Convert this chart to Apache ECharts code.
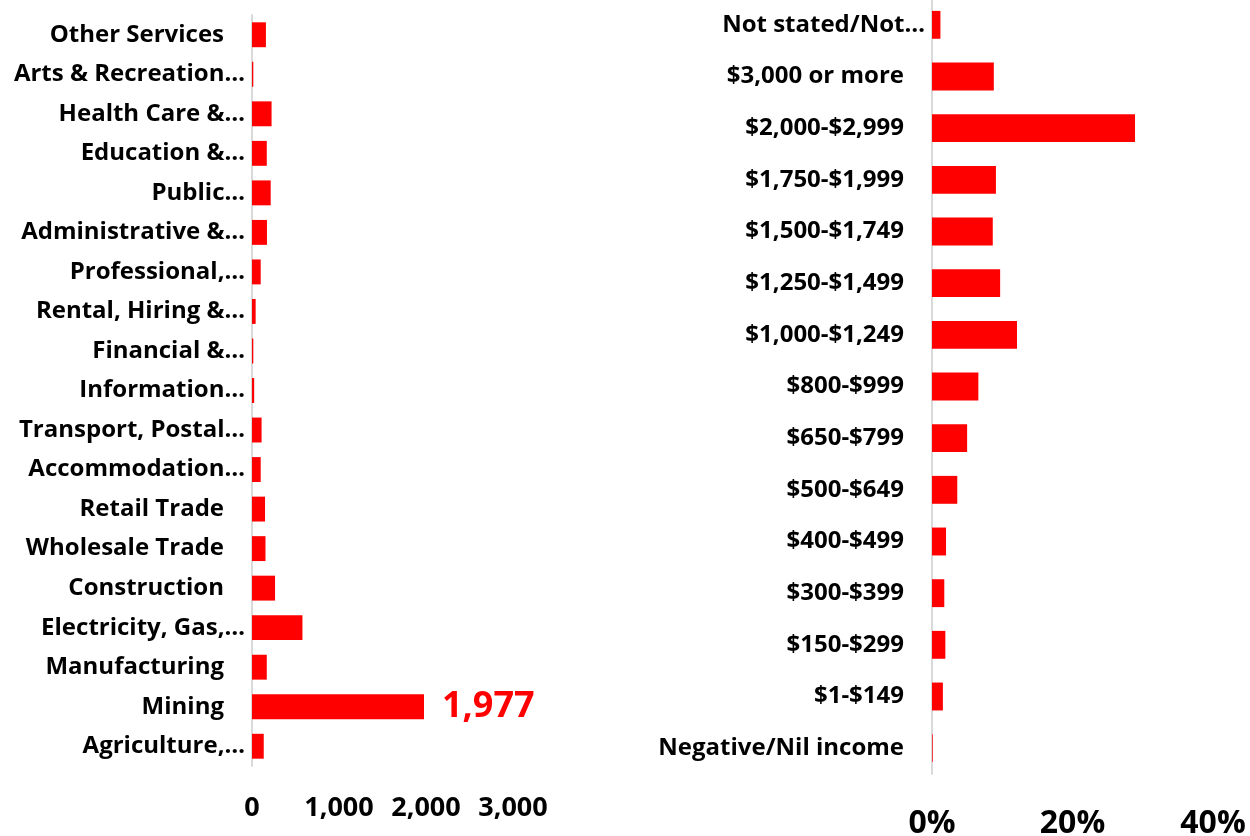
<!DOCTYPE html>
<html>
<head>
<meta charset="utf-8">
<title>Industry and income</title>
<script src="https://cdn.jsdelivr.net/npm/echarts@6/dist/echarts.min.js"></script>
<style>
  html, body { margin: 0; padding: 0; background: #fff; }
  #chart { width: 1250px; height: 836px; }
</style>
</head>
<body>
<div id="chart"></div>
<script>
// industry of employment (count), top to bottom
var industryLabels = ['Other Services', 'Arts & Recreation…', 'Health Care &…', 'Education &…', 'Public…',
  'Administrative &…', 'Professional,…', 'Rental, Hiring &…', 'Financial &…', 'Information…',
  'Transport, Postal…', 'Accommodation…', 'Retail Trade', 'Wholesale Trade', 'Construction',
  'Electricity, Gas,…', 'Manufacturing', 'Mining', 'Agriculture,…']
var industryCounts = [160, 15, 225, 170, 215, 172, 100, 42, 15, 25, 110, 100, 150, 155, 265, 580, 170, 1977, 135]
var industryTicks = [0, 1000, 2000, 3000]

// weekly household income (% of households), top to bottom
var incomeLabels = ['Not stated/Not…', '$3,000 or more', '$2,000-$2,999', '$1,750-$1,999', '$1,500-$1,749',
  '$1,250-$1,499', '$1,000-$1,249', '$800-$999', '$650-$799', '$500-$649', '$400-$499',
  '$300-$399', '$150-$299', '$1-$149', 'Negative/Nil income']
var incomeShares = [1.2, 8.8, 28.9, 9.1, 8.65, 9.7, 12.1, 6.6, 5.0, 3.6, 2.0, 1.75, 1.9, 1.55, 0.1]
var incomeTicks = [0, 20, 40]

var labelledIndustry = 'Mining'

var FONT = 'Open Sans'
var RED = '#ff0000'

// truncated labels run closer to the axis, like the original
function catLabel(pad) {
  return {
    fontFamily: FONT,
    fontWeight: 'bold',
    fontSize: 24,
    color: '#000',
    margin: 7,
    formatter: function(v) {
      return v.slice(-1) === '…' ? '{t|' + v + '}' : '{p|' + v + '}'
    },
    rich: {
      t: { fontFamily: FONT, fontWeight: 'bold', fontSize: 24, color: '#000' },
      p: { fontFamily: FONT, fontWeight: 'bold', fontSize: 24, color: '#000', padding: [0, pad, 0, 0] }
    }
  }
}

var chart = echarts.init(document.getElementById('chart'))

chart.setOption({
  backgroundColor: '#fff',
  animation: false,
  grid: [
    { left: 252, width: 261, top: 15, bottom: 70, outerBoundsMode: 'none' },
    { left: 932, right: 37, top: -1, bottom: 62, outerBoundsMode: 'none' }
  ],
  xAxis: [
    {
      gridIndex: 0,
      type: 'value',
      min: industryTicks[0],
      max: industryTicks[industryTicks.length - 1],
      interval: industryTicks[1] - industryTicks[0],
      splitLine: { show: false },
      axisLine: { show: false },
      axisTick: { show: false },
      axisLabel: {
        margin: 29,
        fontFamily: FONT,
        fontWeight: 'bold',
        fontSize: 27,
        color: '#000',
        formatter: function(v) { return v.toLocaleString('en-US') }
      }
    },
    {
      gridIndex: 1,
      type: 'value',
      min: incomeTicks[0],
      max: incomeTicks[incomeTicks.length - 1],
      interval: incomeTicks[1] - incomeTicks[0],
      splitLine: { show: false },
      axisLine: { show: false },
      axisTick: { show: false },
      axisLabel: {
        margin: 34,
        fontFamily: FONT,
        fontWeight: 'bold',
        fontSize: 32,
        color: '#000',
        formatter: '{value}%'
      }
    }
  ],
  yAxis: [
    {
      gridIndex: 0,
      type: 'category',
      inverse: true,
      data: industryLabels,
      axisLine: { show: true, lineStyle: { color: '#d9d9d9', width: 2 } },
      axisTick: { show: false },
      axisLabel: catLabel(21)
    },
    {
      gridIndex: 1,
      type: 'category',
      inverse: true,
      data: incomeLabels,
      axisLine: { show: true, lineStyle: { color: '#d9d9d9', width: 2 } },
      axisTick: { show: false },
      axisLabel: catLabel(21)
    }
  ],
  series: [
    {
      type: 'bar',
      xAxisIndex: 0,
      yAxisIndex: 0,
      barCategoryGap: '37%',
      itemStyle: { color: RED },
      data: industryCounts.map(function(v, i) {
        if (industryLabels[i] !== labelledIndustry) return v
        return {
          value: v,
          label: {
            show: true,
            position: 'right',
            distance: 18,
            fontFamily: FONT,
            fontWeight: 'bold',
            fontSize: 36,
            color: RED,
            formatter: function(p) { return p.value.toLocaleString('en-US') }
          }
        }
      })
    },
    {
      type: 'bar',
      xAxisIndex: 1,
      yAxisIndex: 1,
      barCategoryGap: '46%',
      itemStyle: { color: RED },
      data: incomeShares
    }
  ]
})
</script>
</body>
</html>
